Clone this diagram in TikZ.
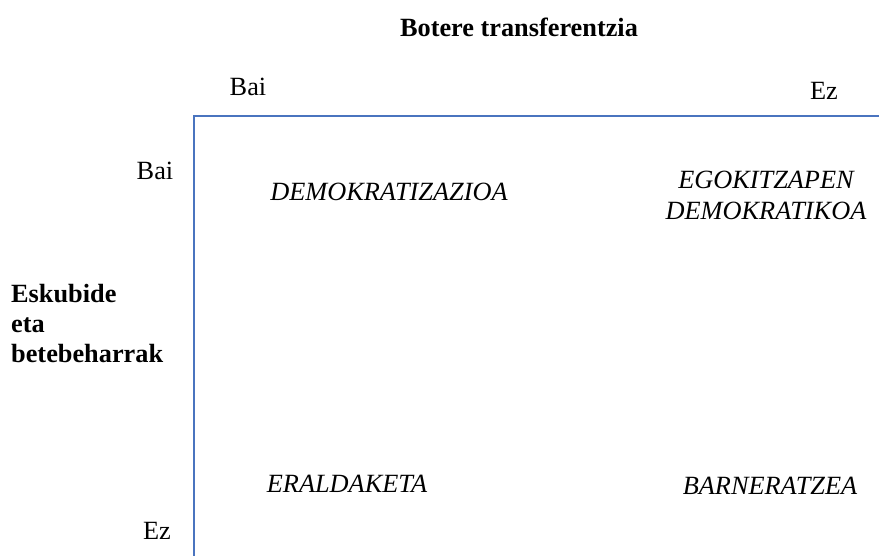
\documentclass[tikz,border=0pt]{standalone}
\usepackage{fontspec}
\setmainfont{Liberation Serif}
\definecolor{axisblue}{HTML}{4A74BF}
\begin{document}
\begin{tikzpicture}[
  x=1pt, y=-1pt,
  font=\fontsize{26.3}{30}\selectfont,
  ttl/.style={font=\fontsize{26.3}{30}\selectfont\bfseries, align=left, inner sep=0pt},
  lev/.style={inner sep=0pt},
  cell/.style={font=\fontsize{26.3}{31}\selectfont\itshape, align=center, inner sep=0pt},
  ax/.style={axisblue, line width=1.6pt}
]
  \useasboundingbox (0,0) rectangle (879,556);
  %% --- Axes ---
  \coordinate (org) at (194,116);
  \coordinate (xend) at (879,116);
  \coordinate (yend) at (194,556);
  \draw[ax] (xend) -- (org) -- (yend);
  %% --- Titles ---
  \node[ttl] (tbot) at (519,27) {Botere transferentzia};
  \node[ttl, anchor=west] (tesk) at (11,324) {Eskubide\\eta\\betebeharrak};
  %% --- Levels ---
  \node[lev] (xbai) at (248,87) {Bai};
  \node[lev] (xez) at (824,91) {Ez};
  \node[lev] (ybai) at (155,171) {Bai};
  \node[lev] (yez) at (157,531) {Ez};
  %% --- Cells ---
  \node[cell] (demo) at (389,192) {DEMOKRATIZAZIOA};
  \node[cell] (egok) at (766,195) {EGOKITZAPEN\\DEMOKRATIKOA};
  \node[cell] (eral) at (347,484) {ERALDAKETA};
  \node[cell] (barn) at (770,486) {BARNERATZEA};
\end{tikzpicture}
\end{document}
